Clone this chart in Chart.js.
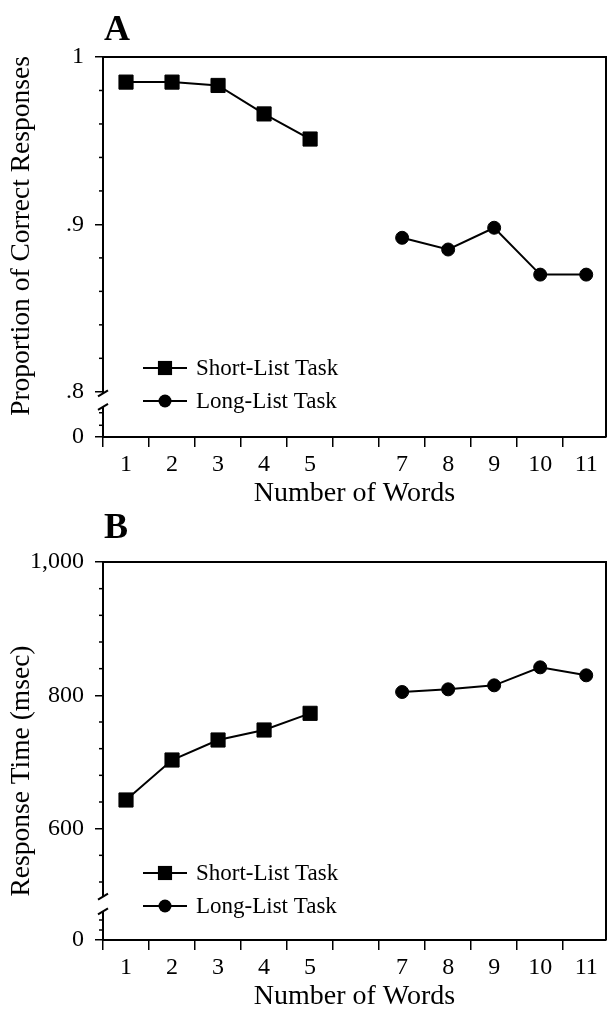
<!DOCTYPE html>
<html>
<head>
<meta charset="utf-8">
<script src="https://cdn.jsdelivr.net/npm/chart.js@4.4.1/dist/chart.umd.min.js"></script>
<style>
html,body{margin:0;padding:0;background:#fff;overflow:hidden;width:607px;height:1012px;position:relative}
.panel{position:absolute;left:0;width:617px;height:520px}
#pa{top:0}
#pb{top:503px}
</style>
</head>
<body>
<div class="panel" id="pa"><canvas id="chartA"></canvas></div>
<div class="panel" id="pb"><canvas id="chartB"></canvas></div>
<script>
// values
const shortWords=[1,2,3,4,5];
const longWords=[7,8,9,10,11];
const accShort=[0.985,0.985,0.983,0.966,0.951];
const accLong=[0.892,0.885,0.898,0.870,0.870];
const rtShort=[643,703,733,748,773];
const rtLong=[805,809,815,842,830];

// x axis: tick marks between the numbers, labels in the middle
const xTicks=[0.5,1.5,2.5,3.5,4.5,5.5,6.5,7.5,8.5,9.5,10.5];
const xLabels=['1','2','3','4','5','','7','8','9','10','11'];

// broken y axes: bottom value is shown as "0"
const accTicks=[0.773,0.8,0.9,1];
const accLabels=['0','.8','.9','1'];
const accMinor=[0.82,0.84,0.86,0.88,0.92,0.94,0.96,0.98,0.7875,0.78];
const accBreak=[0.799,0.791];
const rtTicks=[433,600,800,1000];
const rtLabels=['0','600','800','1,000'];
const rtMinor=[520,560,640,680,720,760,840,880,920,960,463,448];
const rtBreak=[498,476];

const SERIF="'Liberation Serif','Times New Roman',serif";

const decor={id:'decor',afterDraw(chart,args,o){
  const {ctx,chartArea:a,scales:{y}}=chart;
  ctx.save();
  ctx.strokeStyle='#000';ctx.fillStyle='#000';
  // frame top + right
  ctx.lineWidth=2;
  ctx.beginPath();ctx.moveTo(a.left,a.top);ctx.lineTo(a.right,a.top);ctx.lineTo(a.right,a.bottom);ctx.stroke();
  // minor ticks
  ctx.lineWidth=1.5;
  o.minor.forEach(v=>{const py=y.getPixelForValue(v);ctx.beginPath();ctx.moveTo(a.left-4,py);ctx.lineTo(a.left,py);ctx.stroke();});
  // axis break
  const b0=y.getPixelForValue(o.brk[0]),b1=y.getPixelForValue(o.brk[1]);
  ctx.fillStyle='#fff';ctx.fillRect(a.left-3,b0,6,b1-b0);
  ctx.lineWidth=2;
  [b0,b1].forEach(py=>{ctx.beginPath();ctx.moveTo(a.left-5,py+3);ctx.lineTo(a.left+5,py-3);ctx.stroke();});
  // legend
  ctx.fillStyle='#000';
  ctx.font='23px '+SERIF;ctx.textBaseline='middle';ctx.textAlign='left';
  chart.data.datasets.forEach((ds,i)=>{
    const ly=a.top+o.legendY[i],lx=a.left+40;
    ctx.lineWidth=2;
    ctx.beginPath();ctx.moveTo(lx,ly);ctx.lineTo(lx+44,ly);ctx.stroke();
    const cx=lx+22,r=ds.pointRadius;
    if(ds.pointStyle==='rect'){const s=r*Math.SQRT1_2;ctx.fillRect(cx-s,ly-s,2*s,2*s);}
    else{ctx.beginPath();ctx.arc(cx,ly,r,0,Math.PI*2);ctx.fill();}
    ctx.fillText(ds.label,lx+53,ly+1);
  });
  // y title, centred where the original puts it
  ctx.save();
  ctx.font='27.5px '+SERIF;ctx.textAlign='center';ctx.textBaseline='alphabetic';
  ctx.translate(29,o.titleY);ctx.rotate(-Math.PI/2);
  ctx.fillText(o.title,0,0);
  ctx.restore();
  // panel letter
  ctx.font='bold 36px '+SERIF;ctx.textBaseline='alphabetic';ctx.textAlign='left';
  ctx.fillText(o.letter,104,o.letterY);
  ctx.restore();
}};

function makeChart(id,cfg){
  const ds=(label,xs,ys,style,r)=>({label,data:xs.map((x,i)=>({x,y:ys[i]})),
    borderColor:'#000',backgroundColor:'#000',borderWidth:2,
    pointStyle:style,pointRadius:r,pointBorderWidth:1,pointBackgroundColor:'#000',pointBorderColor:'#000'});
  return new Chart(document.getElementById(id),{
    type:'line',
    data:{datasets:[
      ds('Short-List Task',shortWords,cfg.short,'rect',10),
      ds('Long-List Task',longWords,cfg.long,'circle',6.5)
    ]},
    options:{
      responsive:true,maintainAspectRatio:false,animation:false,devicePixelRatio:1,
      layout:{padding:{top:cfg.top,right:1,left:0,bottom:0}},
      plugins:{legend:{display:false},tooltip:{enabled:false},
        decor:{minor:cfg.minor,brk:cfg.brk,legendY:[311,344],letter:cfg.letter,letterY:cfg.letterY,
          title:cfg.title,titleY:cfg.titleY}},
      scales:{
        x:{type:'linear',min:0.5,max:11.43,
          afterBuildTicks:s=>{s.ticks=xTicks.map(v=>({value:v}));},
          afterFit:s=>{s.height=83;s.paddingLeft=0;s.paddingRight=0;},
          border:{display:true,color:'#000',width:2},
          grid:{drawOnChartArea:false,color:'#000',tickLength:10,lineWidth:1.5},
          ticks:{autoSkip:false,maxRotation:0,labelOffset:23,padding:3,color:'#000',
            font:{family:SERIF,size:24},callback:(v,i)=>xLabels[i]},
          title:{display:true,text:'Number of Words',color:'#000',font:{family:SERIF,size:28},padding:{top:0,bottom:10}}},
        y:{type:'linear',min:cfg.ticks[0],max:cfg.ticks[cfg.ticks.length-1],
          afterBuildTicks:s=>{s.ticks=cfg.ticks.map(v=>({value:v}));},
          afterFit:s=>{s.width=103;s.paddingTop=0;s.paddingBottom=0;},
          border:{display:true,color:'#000',width:2},
          grid:{drawOnChartArea:false,color:'#000',tickLength:8,lineWidth:1.5},
          ticks:{autoSkip:false,padding:11,color:'#000',font:{family:SERIF,size:24},
            callback:(v,i)=>cfg.labels[i]}}
      }
    },
    plugins:[decor]
  });
}

makeChart('chartA',{short:accShort,long:accLong,ticks:accTicks,labels:accLabels,minor:accMinor,brk:accBreak,
  title:'Proportion of Correct Responses',titleY:236,top:57,letter:'A',letterY:40});
makeChart('chartB',{short:rtShort,long:rtLong,ticks:rtTicks,labels:rtLabels,minor:rtMinor,brk:rtBreak,
  title:'Response Time (msec)',titleY:268,top:59,letter:'B',letterY:35});
</script>
</body>
</html>
